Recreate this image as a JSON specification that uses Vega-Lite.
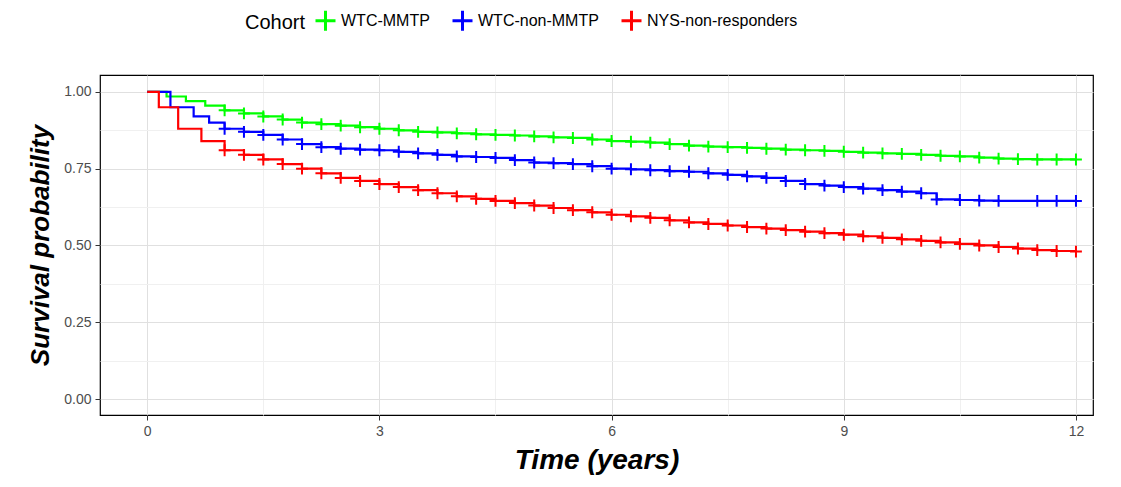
{
  "$schema": "https://vega.github.io/schema/vega-lite/v6.json",
  "width": 993,
  "height": 340,
  "autosize": "none",
  "padding": {"left": 100, "top": 75, "right": 28, "bottom": 72},
  "background": "white",
  "config": {
    "view": {"stroke": "black", "strokeWidth": 1.2},
    "font": "Liberation Sans"
  },
  "data": {"values": [
    {"cohort":"WTC-MMTP","t":0,"s":1.0},{"cohort":"WTC-MMTP","t":0.25,"s":0.985},{"cohort":"WTC-MMTP","t":0.5,"s":0.97},{"cohort":"WTC-MMTP","t":0.75,"s":0.955},{"cohort":"WTC-MMTP","t":1,"s":0.94},{"cohort":"WTC-MMTP","t":1.25,"s":0.93},{"cohort":"WTC-MMTP","t":1.5,"s":0.92},{"cohort":"WTC-MMTP","t":1.75,"s":0.91},{"cohort":"WTC-MMTP","t":2,"s":0.9},{"cohort":"WTC-MMTP","t":2.25,"s":0.895},{"cohort":"WTC-MMTP","t":2.5,"s":0.89},{"cohort":"WTC-MMTP","t":2.75,"s":0.885},{"cohort":"WTC-MMTP","t":3,"s":0.88},{"cohort":"WTC-MMTP","t":3.25,"s":0.875},{"cohort":"WTC-MMTP","t":3.5,"s":0.87},{"cohort":"WTC-MMTP","t":3.75,"s":0.868},{"cohort":"WTC-MMTP","t":4,"s":0.865},{"cohort":"WTC-MMTP","t":4.25,"s":0.862},{"cohort":"WTC-MMTP","t":4.5,"s":0.86},{"cohort":"WTC-MMTP","t":4.75,"s":0.858},{"cohort":"WTC-MMTP","t":5,"s":0.855},{"cohort":"WTC-MMTP","t":5.25,"s":0.852},{"cohort":"WTC-MMTP","t":5.5,"s":0.85},{"cohort":"WTC-MMTP","t":5.75,"s":0.845},{"cohort":"WTC-MMTP","t":6,"s":0.84},{"cohort":"WTC-MMTP","t":6.25,"s":0.838},{"cohort":"WTC-MMTP","t":6.5,"s":0.835},{"cohort":"WTC-MMTP","t":6.75,"s":0.83},{"cohort":"WTC-MMTP","t":7,"s":0.825},{"cohort":"WTC-MMTP","t":7.25,"s":0.822},{"cohort":"WTC-MMTP","t":7.5,"s":0.82},{"cohort":"WTC-MMTP","t":7.75,"s":0.818},{"cohort":"WTC-MMTP","t":8,"s":0.815},{"cohort":"WTC-MMTP","t":8.25,"s":0.812},{"cohort":"WTC-MMTP","t":8.5,"s":0.81},{"cohort":"WTC-MMTP","t":8.75,"s":0.808},{"cohort":"WTC-MMTP","t":9,"s":0.805},{"cohort":"WTC-MMTP","t":9.25,"s":0.802},{"cohort":"WTC-MMTP","t":9.5,"s":0.8},{"cohort":"WTC-MMTP","t":9.75,"s":0.798},{"cohort":"WTC-MMTP","t":10,"s":0.795},{"cohort":"WTC-MMTP","t":10.25,"s":0.792},{"cohort":"WTC-MMTP","t":10.5,"s":0.79},{"cohort":"WTC-MMTP","t":10.75,"s":0.786},{"cohort":"WTC-MMTP","t":11,"s":0.783},{"cohort":"WTC-MMTP","t":11.25,"s":0.781},{"cohort":"WTC-MMTP","t":11.5,"s":0.78},{"cohort":"WTC-MMTP","t":11.75,"s":0.78},{"cohort":"WTC-MMTP","t":12,"s":0.78},
    {"cohort":"WTC-non-MMTP","t":0,"s":1.0},{"cohort":"WTC-non-MMTP","t":0.3,"s":0.95},{"cohort":"WTC-non-MMTP","t":0.6,"s":0.92},{"cohort":"WTC-non-MMTP","t":0.8,"s":0.9},{"cohort":"WTC-non-MMTP","t":1,"s":0.88},{"cohort":"WTC-non-MMTP","t":1.25,"s":0.87},{"cohort":"WTC-non-MMTP","t":1.5,"s":0.86},{"cohort":"WTC-non-MMTP","t":1.75,"s":0.845},{"cohort":"WTC-non-MMTP","t":2,"s":0.83},{"cohort":"WTC-non-MMTP","t":2.25,"s":0.82},{"cohort":"WTC-non-MMTP","t":2.5,"s":0.815},{"cohort":"WTC-non-MMTP","t":2.75,"s":0.812},{"cohort":"WTC-non-MMTP","t":3,"s":0.81},{"cohort":"WTC-non-MMTP","t":3.25,"s":0.805},{"cohort":"WTC-non-MMTP","t":3.5,"s":0.8},{"cohort":"WTC-non-MMTP","t":3.75,"s":0.795},{"cohort":"WTC-non-MMTP","t":4,"s":0.79},{"cohort":"WTC-non-MMTP","t":4.25,"s":0.788},{"cohort":"WTC-non-MMTP","t":4.5,"s":0.785},{"cohort":"WTC-non-MMTP","t":4.75,"s":0.778},{"cohort":"WTC-non-MMTP","t":5,"s":0.77},{"cohort":"WTC-non-MMTP","t":5.25,"s":0.768},{"cohort":"WTC-non-MMTP","t":5.5,"s":0.765},{"cohort":"WTC-non-MMTP","t":5.75,"s":0.758},{"cohort":"WTC-non-MMTP","t":6,"s":0.75},{"cohort":"WTC-non-MMTP","t":6.25,"s":0.748},{"cohort":"WTC-non-MMTP","t":6.5,"s":0.745},{"cohort":"WTC-non-MMTP","t":6.75,"s":0.742},{"cohort":"WTC-non-MMTP","t":7,"s":0.74},{"cohort":"WTC-non-MMTP","t":7.25,"s":0.735},{"cohort":"WTC-non-MMTP","t":7.5,"s":0.73},{"cohort":"WTC-non-MMTP","t":7.75,"s":0.725},{"cohort":"WTC-non-MMTP","t":8,"s":0.72},{"cohort":"WTC-non-MMTP","t":8.25,"s":0.71},{"cohort":"WTC-non-MMTP","t":8.5,"s":0.7},{"cohort":"WTC-non-MMTP","t":8.75,"s":0.695},{"cohort":"WTC-non-MMTP","t":9,"s":0.69},{"cohort":"WTC-non-MMTP","t":9.25,"s":0.685},{"cohort":"WTC-non-MMTP","t":9.5,"s":0.68},{"cohort":"WTC-non-MMTP","t":9.75,"s":0.675},{"cohort":"WTC-non-MMTP","t":10,"s":0.67},{"cohort":"WTC-non-MMTP","t":10.2,"s":0.65},{"cohort":"WTC-non-MMTP","t":10.5,"s":0.648},{"cohort":"WTC-non-MMTP","t":10.75,"s":0.646},{"cohort":"WTC-non-MMTP","t":11,"s":0.645},{"cohort":"WTC-non-MMTP","t":11.5,"s":0.645},{"cohort":"WTC-non-MMTP","t":11.75,"s":0.645},{"cohort":"WTC-non-MMTP","t":12,"s":0.645},
    {"cohort":"NYS-non-responders","t":0,"s":1.0},{"cohort":"NYS-non-responders","t":0.15,"s":0.95},{"cohort":"NYS-non-responders","t":0.4,"s":0.88},{"cohort":"NYS-non-responders","t":0.7,"s":0.84},{"cohort":"NYS-non-responders","t":1,"s":0.81},{"cohort":"NYS-non-responders","t":1.25,"s":0.795},{"cohort":"NYS-non-responders","t":1.5,"s":0.78},{"cohort":"NYS-non-responders","t":1.75,"s":0.765},{"cohort":"NYS-non-responders","t":2,"s":0.75},{"cohort":"NYS-non-responders","t":2.25,"s":0.735},{"cohort":"NYS-non-responders","t":2.5,"s":0.72},{"cohort":"NYS-non-responders","t":2.75,"s":0.71},{"cohort":"NYS-non-responders","t":3,"s":0.7},{"cohort":"NYS-non-responders","t":3.25,"s":0.69},{"cohort":"NYS-non-responders","t":3.5,"s":0.68},{"cohort":"NYS-non-responders","t":3.75,"s":0.67},{"cohort":"NYS-non-responders","t":4,"s":0.66},{"cohort":"NYS-non-responders","t":4.25,"s":0.652},{"cohort":"NYS-non-responders","t":4.5,"s":0.645},{"cohort":"NYS-non-responders","t":4.75,"s":0.638},{"cohort":"NYS-non-responders","t":5,"s":0.63},{"cohort":"NYS-non-responders","t":5.25,"s":0.622},{"cohort":"NYS-non-responders","t":5.5,"s":0.615},{"cohort":"NYS-non-responders","t":5.75,"s":0.608},{"cohort":"NYS-non-responders","t":6,"s":0.6},{"cohort":"NYS-non-responders","t":6.25,"s":0.595},{"cohort":"NYS-non-responders","t":6.5,"s":0.59},{"cohort":"NYS-non-responders","t":6.75,"s":0.582},{"cohort":"NYS-non-responders","t":7,"s":0.575},{"cohort":"NYS-non-responders","t":7.25,"s":0.57},{"cohort":"NYS-non-responders","t":7.5,"s":0.565},{"cohort":"NYS-non-responders","t":7.75,"s":0.56},{"cohort":"NYS-non-responders","t":8,"s":0.555},{"cohort":"NYS-non-responders","t":8.25,"s":0.55},{"cohort":"NYS-non-responders","t":8.5,"s":0.545},{"cohort":"NYS-non-responders","t":8.75,"s":0.54},{"cohort":"NYS-non-responders","t":9,"s":0.535},{"cohort":"NYS-non-responders","t":9.25,"s":0.53},{"cohort":"NYS-non-responders","t":9.5,"s":0.525},{"cohort":"NYS-non-responders","t":9.75,"s":0.52},{"cohort":"NYS-non-responders","t":10,"s":0.515},{"cohort":"NYS-non-responders","t":10.25,"s":0.51},{"cohort":"NYS-non-responders","t":10.5,"s":0.505},{"cohort":"NYS-non-responders","t":10.75,"s":0.5},{"cohort":"NYS-non-responders","t":11,"s":0.495},{"cohort":"NYS-non-responders","t":11.25,"s":0.49},{"cohort":"NYS-non-responders","t":11.5,"s":0.485},{"cohort":"NYS-non-responders","t":11.75,"s":0.482},{"cohort":"NYS-non-responders","t":12,"s":0.48}
  ]},
  "layer": [
    {"mark": {"type": "line", "interpolate": "step-after", "strokeWidth": 2.2}},
    {"transform": [{"filter": "datum.t >= 1"}], "mark": {"type": "point", "shape": "M-1,0H1M0,-1V1", "filled": false, "size": 140, "strokeWidth": 2, "opacity": 1}}
  ],
  "encoding": {
    "x": {
      "field": "t", "type": "quantitative",
      "scale": {"domain": [-0.61, 12.22], "nice": false, "zero": false},
      "title": "Time (years)",
      "axis": {
        "values": [0, 1.5, 3, 4.5, 6, 7.5, 9, 10.5, 12],
        "labelExpr": "indexof([0,3,6,9,12], datum.value) >= 0 ? datum.label : ''",
        "tickOpacity": {"condition": {"test": "indexof([0,3,6,9,12], datum.value) >= 0", "value": 1}, "value": 0},
        "gridColor": {"condition": {"test": "indexof([0,3,6,9,12], datum.value) >= 0", "value": "#e0e0e0"}, "value": "#f0f0f0"},
        "domain": false, "tickColor": "#333", "tickSize": 5,
        "labelFontSize": 14, "labelColor": "#4d4d4d", "labelPadding": 4,
        "titleFontSize": 28, "titleFontWeight": "bold", "titleFontStyle": "italic", "titlePadding": 8, "titleColor": "black"
      }
    },
    "y": {
      "field": "s", "type": "quantitative",
      "scale": {"domain": [-0.052, 1.055], "nice": false, "zero": false},
      "title": "Survival probability",
      "axis": {
        "values": [0, 0.125, 0.25, 0.375, 0.5, 0.625, 0.75, 0.875, 1],
        "labelExpr": "indexof([0,0.25,0.5,0.75,1], datum.value) >= 0 ? format(datum.value, '.2f') : ''",
        "tickOpacity": {"condition": {"test": "indexof([0,0.25,0.5,0.75,1], datum.value) >= 0", "value": 1}, "value": 0},
        "gridColor": {"condition": {"test": "indexof([0,0.25,0.5,0.75,1], datum.value) >= 0", "value": "#e0e0e0"}, "value": "#f0f0f0"},
        "domain": false, "tickColor": "#333", "tickSize": 5,
        "labelFontSize": 14, "labelColor": "#4d4d4d", "labelPadding": 4,
        "titleFontSize": 26, "titleFontWeight": "bold", "titleFontStyle": "italic", "titlePadding": 10, "titleColor": "black"
      }
    },
    "color": {
      "field": "cohort", "type": "nominal",
      "scale": {"domain": ["WTC-MMTP", "WTC-non-MMTP", "NYS-non-responders"], "range": ["#00ff00", "#0000ff", "#ff0000"]},
      "title": "Cohort",
      "legend": {
        "orient": "none", "legendX": 145, "legendY": -66, "direction": "horizontal",
        "titleOrient": "left", "titleFontSize": 20, "titleFontWeight": "normal", "titleColor": "black", "titlePadding": 8,
        "labelFontSize": 16, "labelColor": "black", "columnPadding": 16,
        "symbolType": "M-1,0H1M0,-1V1", "symbolSize": 400, "symbolStrokeWidth": 3, "symbolFillColor": "transparent"
      }
    }
  }
}
